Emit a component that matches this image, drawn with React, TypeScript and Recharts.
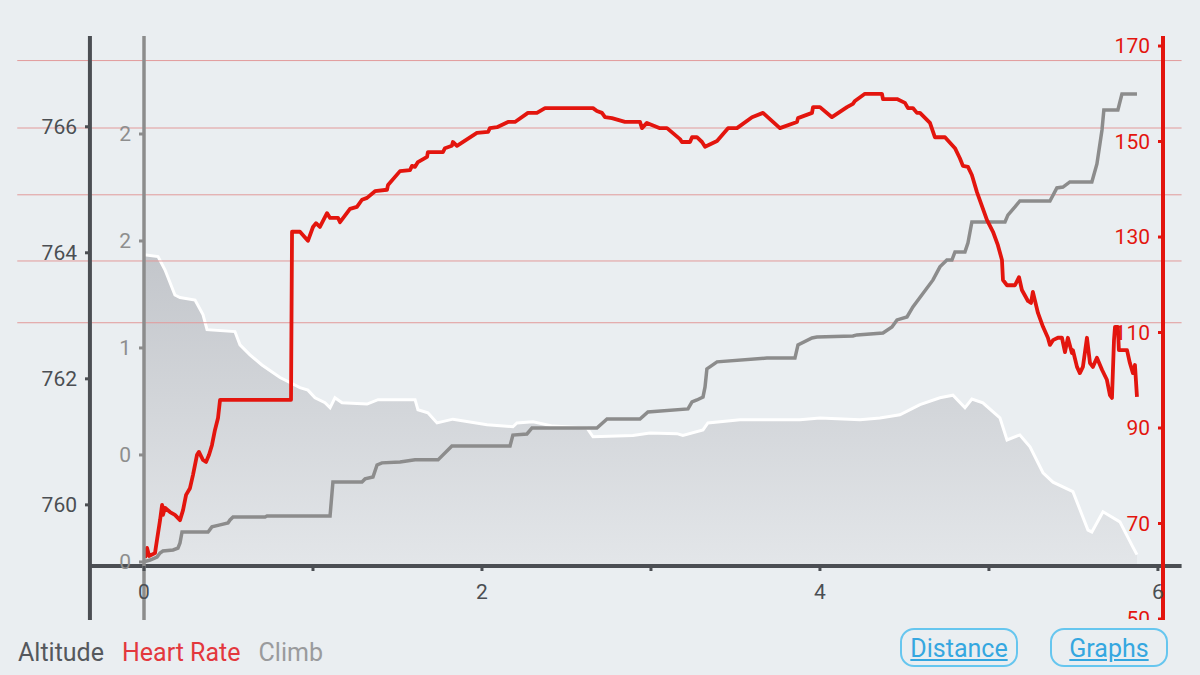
import { ComposedChart, Area, Line, XAxis, YAxis, ReferenceLine } from 'recharts';

// distance (km) vs altitude (m)
const ALTITUDE: [number, number][] = [
  [0, 763.97], [0.083, 763.94], [0.124, 763.73], [0.183, 763.33], [0.213, 763.29], [0.302, 763.25],
  [0.349, 763.02], [0.373, 762.78], [0.538, 762.75], [0.568, 762.54], [0.627, 762.38], [0.698, 762.22],
  [0.805, 762.02], [0.923, 761.86], [0.97, 761.82], [1.012, 761.7], [1.071, 761.62], [1.101, 761.54],
  [1.13, 761.7], [1.172, 761.62], [1.32, 761.6], [1.385, 761.67], [1.604, 761.67], [1.621, 761.51],
  [1.68, 761.46], [1.734, 761.3], [1.828, 761.36], [2.03, 761.27], [2.183, 761.24], [2.207, 761.3],
  [2.302, 761.32], [2.42, 761.25], [2.621, 761.22], [2.657, 761.08], [2.893, 761.1], [2.994, 761.14],
  [3.154, 761.13], [3.189, 761.1], [3.308, 761.19], [3.337, 761.3], [3.527, 761.35], [3.882, 761.35],
  [4.0, 761.38], [4.237, 761.35], [4.355, 761.38], [4.473, 761.43], [4.592, 761.59], [4.71, 761.7],
  [4.787, 761.74], [4.858, 761.54], [4.899, 761.68], [4.964, 761.62], [5.065, 761.38], [5.107, 761.03],
  [5.183, 761.11], [5.243, 760.92], [5.32, 760.51], [5.379, 760.36], [5.497, 760.21], [5.586, 759.6],
  [5.609, 759.57], [5.675, 759.89], [5.775, 759.73], [5.852, 759.33], [5.876, 759.21],
];

// distance (km) vs heart rate (bpm)
const HEART_RATE: [number, number][] = [
  [0.006, 62.8], [0.018, 64.9], [0.03, 63.2], [0.065, 63.8], [0.077, 66.6], [0.095, 70.7],
  [0.107, 73.9], [0.112, 71.8], [0.124, 73.3], [0.154, 72.4], [0.183, 71.8], [0.213, 70.7],
  [0.231, 72.8], [0.249, 76.0], [0.272, 77.4], [0.29, 80.2], [0.314, 84.4], [0.325, 85.0],
  [0.349, 83.3], [0.367, 82.9], [0.385, 84.4], [0.402, 86.4], [0.42, 89.6], [0.438, 92.1],
  [0.45, 95.9], [0.87, 95.9], [0.876, 131.1], [0.923, 131.1], [0.97, 129.2], [1.0, 132.1],
  [1.018, 132.9], [1.041, 132.1], [1.083, 135.0], [1.101, 134.0], [1.148, 134.0], [1.16, 133.1],
  [1.219, 135.9], [1.26, 136.3], [1.29, 137.8], [1.32, 138.2], [1.367, 139.6], [1.438, 139.9],
  [1.444, 140.9], [1.515, 143.8], [1.574, 144.0], [1.586, 144.9], [1.604, 144.7], [1.621, 145.7],
  [1.675, 146.8], [1.68, 147.8], [1.769, 147.8], [1.781, 148.6], [1.822, 149.1], [1.828, 149.9],
  [1.852, 149.1], [1.97, 151.8], [2.036, 152.0], [2.047, 152.8], [2.089, 153.0], [2.154, 154.1],
  [2.195, 154.1], [2.272, 156.0], [2.325, 156.0], [2.373, 157.0], [2.657, 157.0], [2.68, 156.4],
  [2.71, 156.0], [2.728, 155.1], [2.769, 154.9], [2.846, 154.1], [2.935, 154.1], [2.947, 152.8],
  [2.976, 153.9], [3.053, 152.8], [3.095, 152.8], [3.172, 150.5], [3.183, 149.9], [3.231, 149.9],
  [3.243, 150.9], [3.272, 150.9], [3.302, 149.9], [3.32, 148.9], [3.391, 150.1], [3.456, 152.8],
  [3.509, 152.8], [3.598, 155.1], [3.663, 156.0], [3.763, 152.8], [3.864, 154.1], [3.87, 154.9],
  [3.953, 156.0], [3.959, 157.2], [4.0, 157.2], [4.071, 155.1], [4.16, 157.2], [4.195, 157.9],
  [4.207, 158.5], [4.266, 160.0], [4.367, 160.0], [4.373, 158.9], [4.456, 158.9], [4.503, 158.1],
  [4.521, 157.0], [4.55, 157.0], [4.574, 156.0], [4.592, 156.0], [4.651, 153.9], [4.68, 150.9],
  [4.74, 150.9], [4.799, 148.6], [4.828, 146.5], [4.846, 144.9], [4.876, 144.7], [4.899, 143.0],
  [4.929, 139.4], [4.988, 133.6], [5.024, 131.1], [5.053, 128.3], [5.077, 125.2], [5.083, 121.0],
  [5.107, 119.9], [5.154, 119.9], [5.178, 121.6], [5.195, 118.9], [5.231, 116.6], [5.249, 116.2],
  [5.26, 118.5], [5.29, 114.1], [5.32, 111.2], [5.349, 108.9], [5.361, 107.4], [5.379, 108.4],
  [5.408, 108.9], [5.432, 108.9], [5.45, 105.9], [5.467, 108.9], [5.491, 105.7], [5.497, 106.3],
  [5.521, 102.8], [5.538, 101.5], [5.556, 102.8], [5.58, 108.9], [5.598, 103.6], [5.615, 102.8],
  [5.639, 104.7], [5.669, 102.2], [5.698, 100.1], [5.716, 96.9], [5.728, 96.3], [5.74, 108.4],
  [5.746, 111.2], [5.763, 111.2], [5.769, 106.3], [5.817, 106.3], [5.834, 103.6], [5.852, 101.5],
  [5.864, 103.2], [5.876, 96.5],
];

// distance (km) vs cumulative climb
const CLIMB: [number, number][] = [
  [0, 0], [0.036, 0.009], [0.077, 0.023], [0.095, 0.042], [0.112, 0.051], [0.172, 0.056],
  [0.201, 0.065], [0.213, 0.089], [0.225, 0.14], [0.379, 0.14], [0.402, 0.164], [0.45, 0.173],
  [0.497, 0.182], [0.509, 0.196], [0.527, 0.21], [0.716, 0.21], [0.728, 0.215], [1.101, 0.215],
  [1.118, 0.374], [1.29, 0.374], [1.308, 0.388], [1.355, 0.397], [1.379, 0.453], [1.408, 0.463],
  [1.515, 0.467], [1.604, 0.477], [1.74, 0.477], [1.822, 0.542], [2.166, 0.542], [2.183, 0.593],
  [2.266, 0.598], [2.296, 0.626], [2.68, 0.626], [2.74, 0.668], [2.935, 0.668], [2.982, 0.701],
  [3.219, 0.715], [3.243, 0.748], [3.272, 0.757], [3.308, 0.771], [3.32, 0.818], [3.331, 0.902],
  [3.391, 0.935], [3.686, 0.953], [3.852, 0.953], [3.87, 1.014], [3.953, 1.047], [3.982, 1.051],
  [4.195, 1.056], [4.219, 1.061], [4.373, 1.07], [4.426, 1.098], [4.456, 1.131], [4.515, 1.145],
  [4.55, 1.192], [4.669, 1.318], [4.71, 1.379], [4.751, 1.411], [4.781, 1.411], [4.799, 1.449],
  [4.858, 1.449], [4.876, 1.491], [4.899, 1.589], [5.095, 1.589], [5.112, 1.621], [5.154, 1.659],
  [5.183, 1.687], [5.361, 1.687], [5.402, 1.748], [5.438, 1.752], [5.479, 1.776], [5.609, 1.776],
  [5.639, 1.86], [5.669, 2.019], [5.68, 2.112], [5.763, 2.112], [5.787, 2.187], [5.876, 2.187],
];

const X_TICKS = [0, 1, 2, 3, 4, 5, 6];
const ALT_TICKS = [760, 762, 764, 766];
const CLIMB_TICKS = [0, 0.5, 1, 1.5, 2];
const HR_TICKS = [50, 70, 90, 110, 130, 150, 170];
const GUIDES = [767.05, 765.98, 764.92, 763.87, 762.89]; // thin red guide lines (altitude units)

const X_DOMAIN: [number, number] = [0, 6.03];
const ALT_DOMAIN: [number, number] = [759.03, 767.44];
const CLIMB_DOMAIN: [number, number] = [-0.019, 2.458];
const HR_DOMAIN: [number, number] = [61.1, 172.1];

// frame positions in distance units (outside the plot area)
const X_ALT_AXIS = -0.32;
const X_FRAME_LEFT = -0.75;
const X_FRAME_RIGHT = 6.14;

const FONT = 'Roboto, "Noto Sans", sans-serif';
const DARK = '#4b4e53';
const GREY = '#8c8c8c';
const RED = '#e3150e';

// android-ish rounding: 0.5 -> 0, 1.5 -> 2
function halfEven(v: number) {
  const r = Math.round(v);
  if (Math.abs(v % 1) === 0.5 && r % 2 !== 0) return String(r - 1);
  return String(r);
}

const altData = ALTITUDE.map(([dist, alt]) => ({ dist, alt }));
const hrData = HEART_RATE.map(([dist, hr]) => ({ dist, hr }));
const climbData = CLIMB.map(([dist, climb]) => ({ dist, climb }));

const ALT_ID = 'y_alt';
const CLIMB_ID = 'a_climb';

export default function App() {
  const frameBottom = ALT_DOMAIN[0] - 1.5;
  const frameTop = ALT_DOMAIN[1];

  return (
    <div style={{ position: 'fixed', top: 0, left: 0, width: 1200, height: 675, background: '#eaeef1', fontFamily: FONT }}>
      <div style={{ position: 'absolute', top: 0, left: 0, width: 1200, height: 620, overflow: 'hidden' }}>
        <ComposedChart width={1200} height={620} margin={{ top: 36, right: 37, left: 18, bottom: 14 }}>
          <defs>
            <linearGradient id="altFill" x1="0" y1="0" x2="0" y2="1">
              <stop offset="0%" stopColor="#c3c6cb" />
              <stop offset="100%" stopColor="#e3e6e9" />
            </linearGradient>
          </defs>
          <XAxis
            dataKey="dist"
            type="number"
            domain={X_DOMAIN}
            allowDataOverflow
            ticks={X_TICKS}
            interval={0}
            tickFormatter={(v) => (v % 2 === 0 ? String(v) : '')}
            axisLine={false}
            tickLine={{ stroke: DARK, strokeWidth: 3 }}
            tickSize={5}
            tickMargin={13}
            height={40}
            tick={{ fill: DARK, fontSize: 21, fontFamily: FONT }}
          />
          <YAxis
            yAxisId={ALT_ID}
            orientation="left"
            width={72}
            domain={ALT_DOMAIN}
            allowDataOverflow
            ticks={ALT_TICKS}
            interval={0}
            axisLine={false}
            tickLine={{ stroke: DARK, strokeWidth: 3 }}
            tickSize={5}
            tickMargin={8}
            tick={{ fill: DARK, fontSize: 21, fontFamily: FONT }}
          />
          <YAxis
            yAxisId={CLIMB_ID}
            orientation="left"
            width={54}
            domain={CLIMB_DOMAIN}
            allowDataOverflow
            ticks={CLIMB_TICKS}
            interval={0}
            tickFormatter={halfEven}
            axisLine={false}
            tickLine={{ stroke: GREY, strokeWidth: 3 }}
            tickSize={5}
            tickMargin={8}
            tick={{ fill: '#8e8e8e', fontSize: 21, fontFamily: FONT }}
          />
          <YAxis
            yAxisId="hr"
            orientation="right"
            mirror
            domain={HR_DOMAIN}
            allowDataOverflow
            ticks={HR_TICKS}
            interval={0}
            axisLine={false}
            tickLine={{ stroke: RED, strokeWidth: 3 }}
            tickSize={5}
            tickMargin={8}
            tick={{ fill: RED, fontSize: 21, fontFamily: FONT }}
          />

          <Area
            yAxisId={ALT_ID}
            data={altData}
            dataKey="alt"
            type="linear"
            stroke="#ffffff"
            strokeWidth={3}
            fill="url(#altFill)"
            fillOpacity={1}
            dot={false}
            activeDot={false}
            isAnimationActive={false}
          />

          {GUIDES.map((g) => (
            <ReferenceLine
              key={g}
              yAxisId={ALT_ID}
              segment={[{ x: X_FRAME_LEFT, y: g }, { x: X_FRAME_RIGHT, y: g }]}
              ifOverflow="visible"
              stroke="#e29a9a"
              strokeWidth={1}
            />
          ))}

          <Line
            yAxisId={CLIMB_ID}
            data={climbData}
            dataKey="climb"
            type="linear"
            stroke={GREY}
            strokeWidth={3.5}
            dot={false}
            activeDot={false}
            isAnimationActive={false}
          />
          <Line
            yAxisId="hr"
            data={hrData}
            dataKey="hr"
            type="linear"
            stroke={RED}
            strokeWidth={3.8}
            strokeLinejoin="round"
            dot={false}
            activeDot={false}
            isAnimationActive={false}
          />

          {/* axis frame lines, they run past the plot area */}
          <ReferenceLine
            yAxisId={ALT_ID}
            segment={[{ x: X_ALT_AXIS, y: ALT_DOMAIN[0] }, { x: X_FRAME_RIGHT, y: ALT_DOMAIN[0] }]}
            ifOverflow="visible"
            stroke={DARK}
            strokeWidth={4}
          />
          <ReferenceLine
            yAxisId={ALT_ID}
            segment={[{ x: X_ALT_AXIS, y: frameTop }, { x: X_ALT_AXIS, y: frameBottom }]}
            ifOverflow="visible"
            stroke={DARK}
            strokeWidth={4}
          />
          <ReferenceLine
            yAxisId={ALT_ID}
            segment={[{ x: 0, y: frameTop }, { x: 0, y: frameBottom }]}
            ifOverflow="visible"
            stroke={GREY}
            strokeWidth={3.5}
          />
          <ReferenceLine
            yAxisId={ALT_ID}
            segment={[{ x: X_DOMAIN[1], y: frameTop }, { x: X_DOMAIN[1], y: frameBottom }]}
            ifOverflow="visible"
            stroke={RED}
            strokeWidth={4}
          />
        </ComposedChart>
      </div>

      <div style={{ position: 'absolute', left: 18, top: 637, fontSize: 25, lineHeight: '32px', whiteSpace: 'nowrap' }}>
        <span style={{ color: '#55585d', marginRight: 18 }}>Altitude</span>
        <span style={{ color: '#e3383d', marginRight: 18 }}>Heart Rate</span>
        <span style={{ color: '#9a9b9d' }}>Climb</span>
      </div>

      {[
        { label: 'Distance', left: 900 },
        { label: 'Graphs', left: 1050 },
      ].map((b) => (
        <div
          key={b.label}
          style={{
            position: 'absolute',
            left: b.left,
            top: 628,
            width: 118,
            height: 39,
            boxSizing: 'border-box',
            border: '2px solid #66c6ef',
            borderRadius: 14,
            color: '#35a7e0',
            fontSize: 25,
            lineHeight: '38px',
            textAlign: 'center',
            textDecoration: 'underline',
          }}
        >
          {b.label}
        </div>
      ))}
    </div>
  );
}
